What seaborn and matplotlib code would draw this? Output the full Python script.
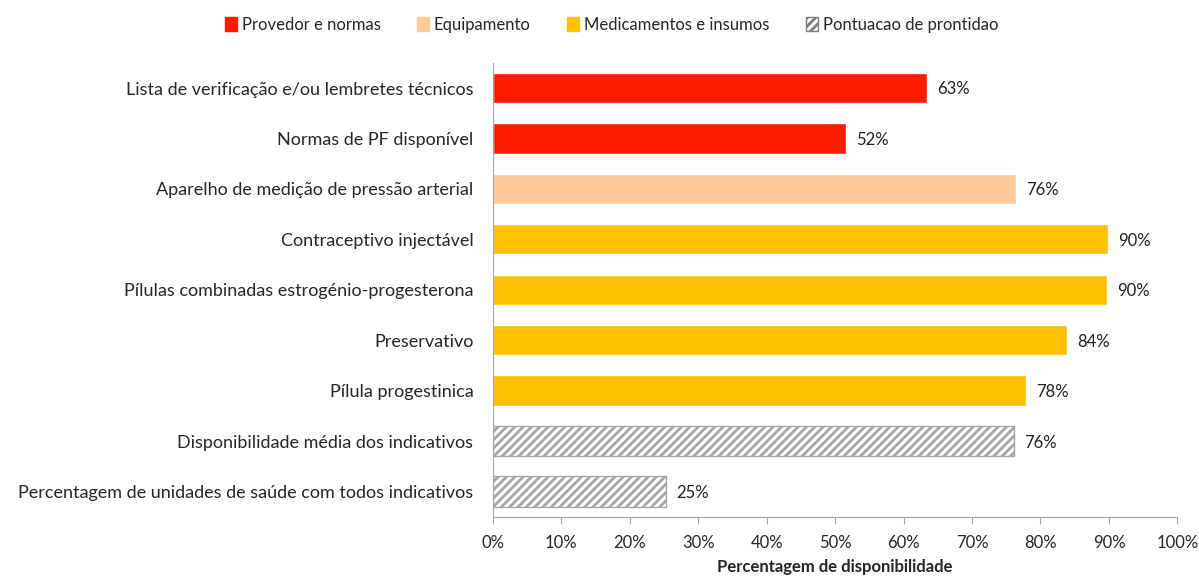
import pandas as pd
import matplotlib.pyplot as plt
import seaborn as sns
from matplotlib.patches import Patch

# Dados
indicadores = ['Lista de verificação e/ou lembretes técnicos',
               'Normas de PF disponível',
               'Aparelho de medição de pressão arterial',
               'Contraceptivo injectável',
               'Pílulas combinadas estrogénio-progesterona',
               'Preservativo',
               'Pílula progestinica',
               'Disponibilidade média dos indicativos',
               'Percentagem de unidades de saúde com todos indicativos']
valores = [63.4, 51.6, 76.4, 89.9, 89.7, 83.8, 77.9, 76.1, 25.3]
grupos = ['Provedor e normas', 'Provedor e normas', 'Equipamento',
          'Medicamentos e insumos', 'Medicamentos e insumos', 'Medicamentos e insumos',
          'Medicamentos e insumos', 'Pontuacao de prontidao', 'Pontuacao de prontidao']
ordem_grupos = ['Provedor e normas', 'Equipamento', 'Medicamentos e insumos', 'Pontuacao de prontidao']
cores = {'Provedor e normas': '#FF1A00', 'Equipamento': '#FFCA99',
         'Medicamentos e insumos': '#FFC000', 'Pontuacao de prontidao': 'white'}

df = pd.DataFrame({'indicador': indicadores, 'valor': valores, 'grupo': grupos})

sns.set_style('white')
plt.rcParams['font.family'] = ['Lato', 'DejaVu Sans']
plt.rcParams['hatch.color'] = '#7F7F7F'
plt.rcParams['hatch.linewidth'] = 2.0

fig = plt.figure(figsize=(11.99, 5.76), dpi=100)
ax = fig.add_axes([0.411, 0.103, 0.571, 0.788])

sns.barplot(data=df, x='valor', y='indicador', hue='grupo', hue_order=ordem_grupos,
            palette=cores, dodge=False, width=0.6, legend=False, saturation=1, ax=ax)

# Barras tracejadas para a pontuação de prontidão
for barra in ax.patches:
    if barra.get_facecolor()[:3] == (1.0, 1.0, 1.0):
        barra.set_hatch('////')
        barra.set_edgecolor('#A6A6A6')
        barra.set_linewidth(1.0)

# Rótulos dos valores
for barra in ax.patches:
    w = barra.get_width()
    if w > 0:
        ax.text(w + 1.5, barra.get_y() + barra.get_height() / 2, f'{round(w)}%',
                va='center_baseline', ha='left', fontsize=12, color='#222222')

ax.set_xlim(0, 100)
ax.set_xticks(range(0, 101, 10))
ax.set_xticklabels([f'{t}%' for t in range(0, 101, 10)], fontsize=12)
ax.tick_params(axis='y', labelsize=13, length=0, pad=14)
ax.tick_params(axis='x', direction='out', length=5, color='#A6A6A6', bottom=True, pad=8)
ax.set_ylabel('')
ax.set_xlabel('Percentagem de disponibilidade', fontsize=12, fontweight='bold', labelpad=6)
sns.despine(ax=ax, top=True, right=True)
for lado in ['left', 'bottom']:
    ax.spines[lado].set_color('#A6A6A6')

# Legenda
handles = [Patch(facecolor=cores[g], edgecolor='#7F7F7F' if g == 'Pontuacao de prontidao' else cores[g],
                 hatch='////' if g == 'Pontuacao de prontidao' else None, label=g) for g in ordem_grupos]
fig.legend(handles=handles, loc='center', bbox_to_anchor=(0.51, 0.957), ncol=4, frameon=False,
           fontsize=12, handlelength=0.7, handleheight=0.9, handletextpad=0.3, columnspacing=2.2)

plt.savefig('out.png', dpi=100)
